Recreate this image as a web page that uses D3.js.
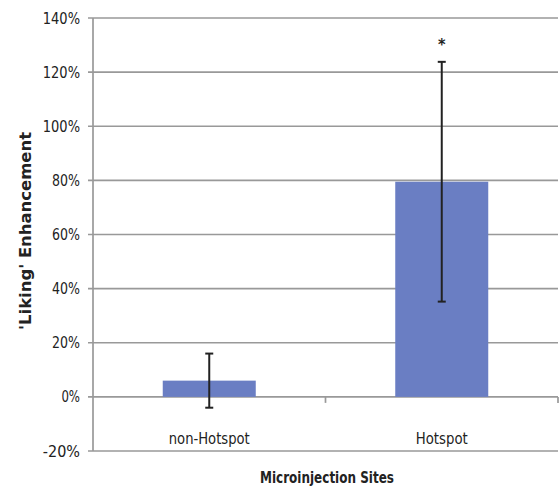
<!DOCTYPE html>
<html><head><meta charset="utf-8">
<script src="https://cdn.jsdelivr.net/npm/d3@7"></script>
<style>body{margin:0;background:#fff}text{font-family:"Liberation Sans Narrow","DejaVu Sans Condensed","Open Sans",sans-serif;fill:#222}</style>
</head><body>
<svg id="c" width="560" height="493"></svg>
<script>
const categories = ["non-Hotspot", "Hotspot"];
const values = [6, 79.5];
const errors = [10, 44.3];
const yTicks = [-20, 0, 20, 40, 60, 80, 100, 120, 140];
const stars = ["", "*"];

const svg = d3.select("#c");
const m = {l: 93, r: 558, t: 18, b: 451};
const y = d3.scaleLinear().domain([-20, 140]).range([m.b, m.t]);
const x = d3.scaleBand().domain(categories).range([m.l, m.r]).paddingInner(0.6).paddingOuter(0.3);
const grid = "#999";

svg.append("g").selectAll("line").data(yTicks).join("line")
  .attr("x1", m.l - 5).attr("x2", m.r)
  .attr("y1", d => y(d)).attr("y2", d => y(d))
  .attr("stroke", grid).attr("stroke-width", 1.7);
svg.append("line").attr("x1", m.l).attr("x2", m.l).attr("y1", m.t).attr("y2", m.b).attr("stroke", grid).attr("stroke-width", 1.7);
const xs = d3.scaleLinear().domain([0, 2]).range([m.l, m.r]);
svg.append("g").selectAll("line").data([1, 2]).join("line")
  .attr("x1", d => xs(d)).attr("x2", d => xs(d))
  .attr("y1", y(0)).attr("y2", y(0) + 6)
  .attr("stroke", grid).attr("stroke-width", 1.7);

svg.append("g").selectAll("text").data(yTicks).join("text")
  .attr("x", 80).attr("y", d => y(d)).attr("dy", "0.35em")
  .attr("text-anchor", "end").attr("font-size", 16)
  .attr("textLength", d => (String(d).length + 1) * 9.3).attr("lengthAdjust", "spacingAndGlyphs")
  .text(d => d + "%");

svg.append("g").selectAll("rect").data(categories).join("rect")
  .attr("x", d => x(d)).attr("width", x.bandwidth())
  .attr("y", (d, i) => y(Math.max(0, values[i])))
  .attr("height", (d, i) => Math.abs(y(values[i]) - y(0)))
  .attr("fill", "#6a7ec3");

const eb = svg.append("g").attr("stroke", "#222").attr("stroke-width", 2);
categories.forEach((c, i) => {
  const cx = x(c) + x.bandwidth() / 2;
  const hi = y(values[i] + errors[i]), lo = y(values[i] - errors[i]);
  eb.append("line").attr("x1", cx).attr("x2", cx).attr("y1", hi).attr("y2", lo);
  eb.append("line").attr("x1", cx - 4).attr("x2", cx + 4).attr("y1", hi).attr("y2", hi);
  eb.append("line").attr("x1", cx - 4).attr("x2", cx + 4).attr("y1", lo).attr("y2", lo);
  if (stars[i]) svg.append("text").attr("x", cx).attr("y", hi - 12)
    .attr("text-anchor", "middle").attr("font-size", 16).attr("font-weight", "bold").text(stars[i]);
});

svg.append("g").selectAll("text").data(categories).join("text")
  .attr("x", d => x(d) + x.bandwidth() / 2).attr("y", 438).attr("dy", "0.35em")
  .attr("text-anchor", "middle").attr("font-size", 16.5)
  .attr("textLength", (d, i) => [81, 52][i]).attr("lengthAdjust", "spacingAndGlyphs")
  .text(d => d);

svg.append("text").attr("x", 327).attr("y", 477).attr("dy", "0.35em")
  .attr("text-anchor", "middle").attr("font-size", 16.5).attr("font-weight", "bold")
  .attr("textLength", 134).attr("lengthAdjust", "spacingAndGlyphs").text("Microinjection Sites");
svg.append("text").attr("transform", "translate(25,231) rotate(-90)").attr("dy", "0.35em")
  .attr("text-anchor", "middle").attr("font-size", 16).attr("font-weight", "bold")
  .attr("textLength", 198).attr("lengthAdjust", "spacingAndGlyphs")
  .style("font-family", "'DejaVu Sans',Verdana,sans-serif").text("'Liking' Enhancement");
</script>
</body></html>
